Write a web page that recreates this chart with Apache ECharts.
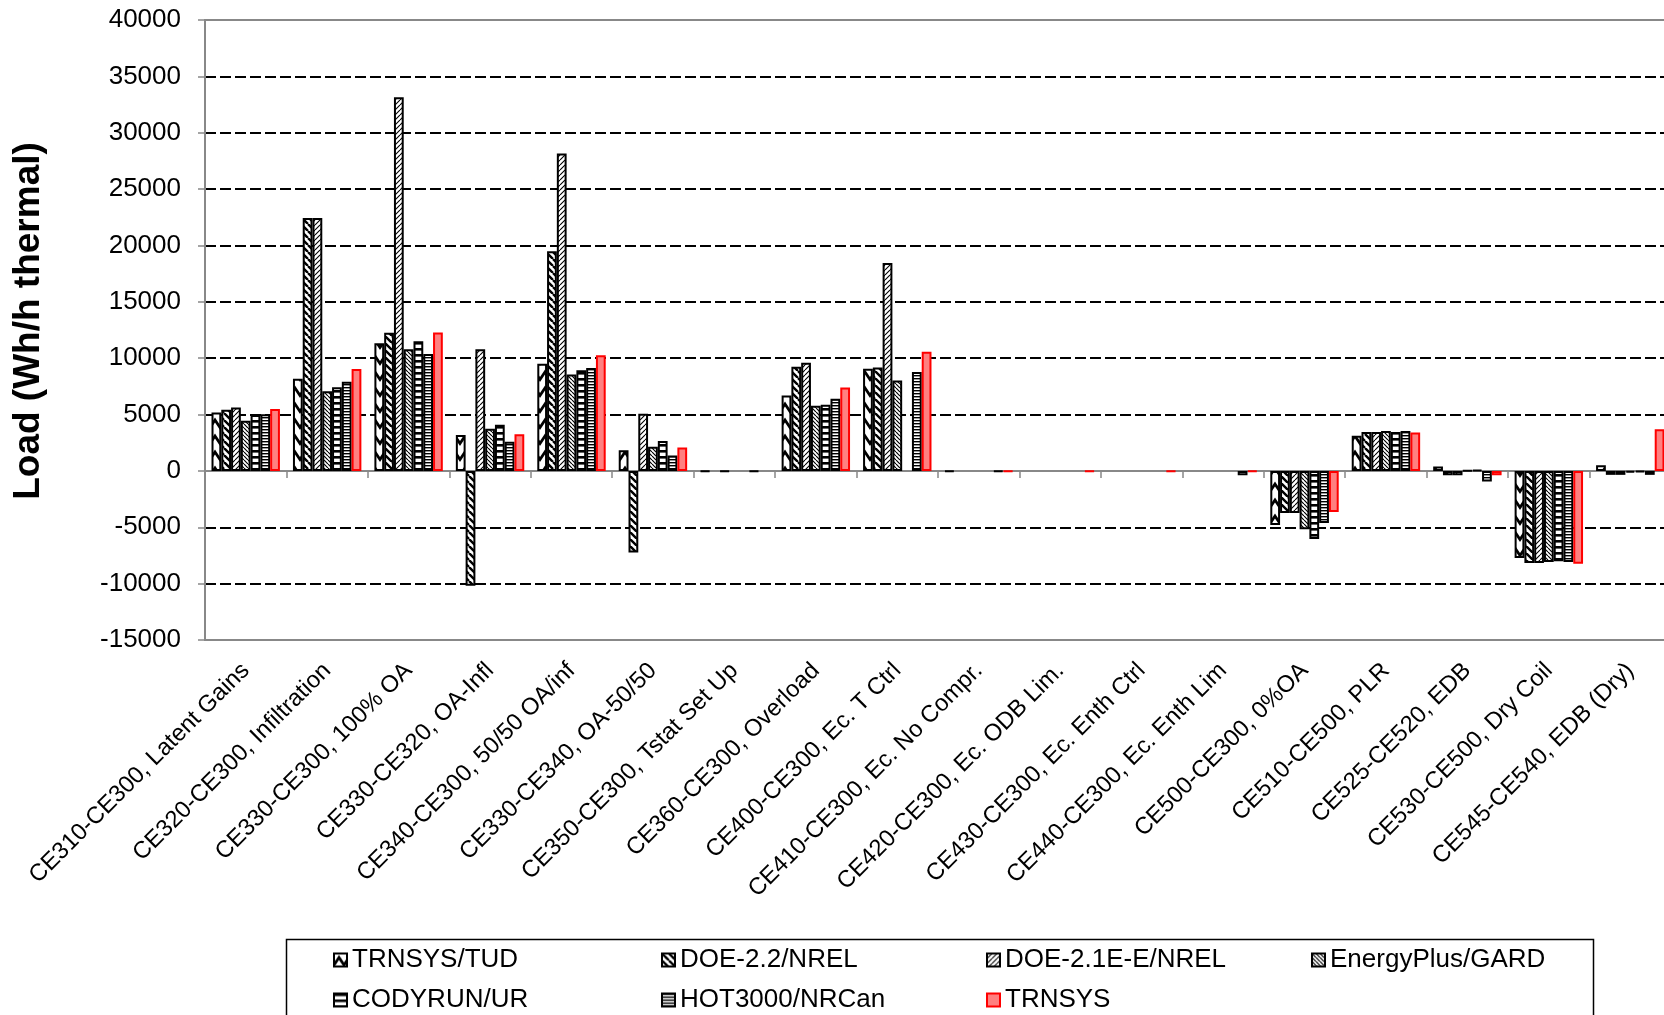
<!DOCTYPE html>
<html><head><meta charset="utf-8">
<script src="https://cdn.jsdelivr.net/npm/echarts@6/dist/echarts.min.js"></script>
<style>html,body{margin:0;padding:0;background:#fff;}#c{width:1664px;height:1015px;}</style>
</head><body><div id="c"></div>
<script>
const categories = [
  'CE310-CE300, Latent Gains', 'CE320-CE300, Infiltration', 'CE330-CE300, 100% OA',
  'CE330-CE320, OA-Infl', 'CE340-CE300, 50/50 OA/inf', 'CE330-CE340, OA-50/50',
  'CE350-CE300, Tstat Set Up', 'CE360-CE300, Overload', 'CE400-CE300, Ec. T Ctrl',
  'CE410-CE300, Ec. No Compr.', 'CE420-CE300, Ec. ODB Lim.', 'CE430-CE300, Ec. Enth Ctrl',
  'CE440-CE300, Ec. Enth Lim', 'CE500-CE300, 0%OA', 'CE510-CE500, PLR',
  'CE525-CE520, EDB', 'CE530-CE500, Dry Coil', 'CE545-CE540, EDB (Dry)'
];
const seriesNames = ['TRNSYS/TUD', 'DOE-2.2/NREL', 'DOE-2.1E-E/NREL', 'EnergyPlus/GARD', 'CODYRUN/UR', 'HOT3000/NRCan', 'TRNSYS'];

const trnsysTud   = [5190, 8180, 11330, 3190, 9500, 1830, -60, 6700, 9060, -80, null, null, null, -4790, 3110, 400, -7730, 500];
const doe22Nrel   = [5430, 22430, 12250, -10180, 19480, -7230, null, 9240, 9180, null, null, null, null, -3730, 3460, -380, -8170, -350];
const doe21eNrel  = [5630, 22430, 33150, 10790, 28160, 5060, -60, 9590, 18450, null, null, null, null, -3730, 3460, -380, -8170, -350];
const energyPlus  = [4450, 7060, 10790, 3730, 8550, 2140, null, 5770, 8030, null, null, null, null, -5180, 3550, 50, -8080, -150];
const codyrunUr   = [4950, 7430, 11500, 4100, 8930, 2650, null, 5880, null, null, null, null, null, -6040, 3460, 80, -8020, -100];
const hot3000     = [5020, 7900, 10380, 2580, 9130, 1360, -60, 6410, 8770, -80, null, null, -380, -4620, 3550, -940, -8080, -350];
const trnsys      = [5500, 9030, 12280, 3260, 10250, 2070, null, 7410, 10560, -50, -50, -50, -80, -3640, 3400, -380, -8230, 3700];

const yTicks = { min: -15000, max: 40000, interval: 5000 };

const seriesData = [trnsysTud, doe22Nrel, doe21eNrel, energyPlus, codyrunUr, hot3000, trnsys];

function tile(w, h, draw) {
  const c = document.createElement('canvas');
  c.width = w; c.height = h;
  const g = c.getContext('2d');
  g.fillStyle = '#fff'; g.fillRect(0, 0, w, h);
  g.strokeStyle = '#000'; g.fillStyle = '#000';
  draw(g, w, h);
  return { image: c, repeat: 'repeat' };
}
function diag(s, lw, dir) {
  return tile(s, s, (g) => {
    g.lineWidth = lw; g.beginPath();
    for (const o of [-s, 0, s]) {
      if (dir === '\\') { g.moveTo(o, 0); g.lineTo(o + s, s); }
      else { g.moveTo(o, s); g.lineTo(o + s, 0); }
    }
    g.stroke();
  });
}
const patterns = [
  tile(10, 16, (g) => { g.lineWidth = 2.8; g.beginPath(); g.moveTo(-1, 13); g.lineTo(5, 4); g.lineTo(11, 13); g.stroke(); }),
  diag(7, 2.4, '\\'),
  diag(5, 1.1, '/'),
  diag(4, 1.2, '\\'),
  tile(4, 6, (g) => { g.fillRect(0, 0, 4, 2.6); }),
  tile(4, 3, (g) => { g.fillRect(0, 0, 4, 1.4); }),
  '#FF8080'
];

const FONT = 'Liberation Sans';
const colX = [333, 661, 986, 1311];
const rowY = [947, 987];

const chart = echarts.init(document.getElementById('c'));
chart.setOption({
  animation: false,
  backgroundColor: '#fff',
  textStyle: { fontFamily: FONT },
  grid: { left: 205, right: -7, top: 20, bottom: 375, containLabel: false, outerBoundsMode: 'none',
          show: true, borderColor: '#888', borderWidth: 2, backgroundColor: 'transparent' },
  xAxis: {
    type: 'category', data: categories, z: 1,
    axisLine: { onZero: true, lineStyle: { color: '#888', width: 2 } },
    axisTick: { show: true, length: 7, lineStyle: { color: '#888', width: 1.5 } },
    axisLabel: { rotate: 45, margin: 27, interval: 0, fontSize: 23.7, color: '#000', fontFamily: FONT, hideOverlap: false },
    splitLine: { show: false }
  },
  yAxis: {
    type: 'value', min: yTicks.min, max: yTicks.max, interval: yTicks.interval, z: 0,
    name: 'Load (Wh/h thermal)', nameLocation: 'middle', nameRotate: 90, nameGap: 158,
    nameTextStyle: { fontSize: 37, fontWeight: 'bold', color: '#000', fontFamily: FONT, padding: [0, 0, 0, 18] },
    axisLine: { show: true, lineStyle: { color: '#888', width: 2 } },
    axisTick: { show: true, length: 7, lineStyle: { color: '#888', width: 1.5 } },
    axisLabel: { fontSize: 26, color: '#000', margin: 24, fontFamily: FONT, formatter: (v) => String(v) },
    splitLine: { show: true, showMinLine: false, showMaxLine: false, lineStyle: { color: '#000', width: 2, type: [11, 4] } }
  },
  legend: seriesNames.map((n, i) => ({
    data: [n], left: colX[i < 4 ? i : i - 4], top: rowY[i < 4 ? 0 : 1],
    itemWidth: 13, itemHeight: 13, padding: 0, icon: 'rect', selectedMode: false,
    textStyle: { fontSize: 26, color: '#000', fontFamily: FONT }
  })),
  graphic: [{ type: 'rect', shape: { x: 286.5, y: 939.5, width: 1307, height: 120 }, style: { fill: 'none', stroke: '#000', lineWidth: 1.5 } }],
  series: seriesNames.map((n, i) => ({
    name: n, type: 'bar', data: seriesData[i], barGap: '0%', barCategoryGap: '16%',
    itemStyle: i === 6
      ? { color: patterns[i], borderColor: '#FF0000', borderWidth: 2 }
      : { color: patterns[i], borderColor: '#000', borderWidth: 2 }
  }))
});
</script></body></html>
